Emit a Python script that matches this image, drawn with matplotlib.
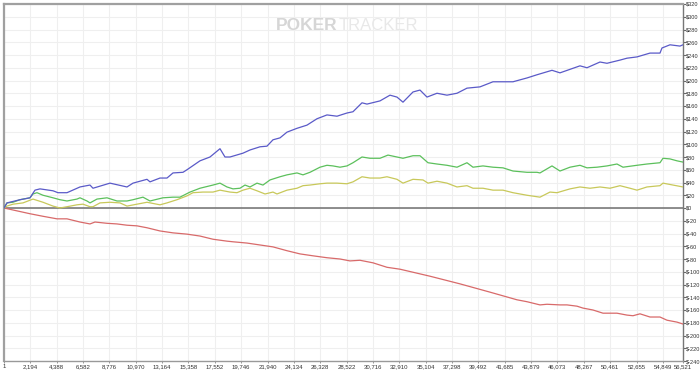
import matplotlib
matplotlib.use("Agg")
import matplotlib.pyplot as plt

# hand number / running total in dollars
blue_hands = [1, 250, 1332, 2164, 2580, 2997, 4079, 4495, 5244, 6326, 7159, 7408,
              8823, 10239, 10738, 11903, 12153, 12985, 13568, 14068, 14900, 15233,
              16315, 17147, 17980, 18396, 18812, 19894, 20477, 21309, 21892, 22392,
              22974, 23557, 24389, 25222, 26054, 26886, 27719, 28551, 29051, 29800,
              30216, 31298, 32131, 32713, 33213, 34045, 34628, 35211, 36043, 36875,
              37708, 38540, 39622, 40704, 42369, 43535, 44367, 45616, 46281, 47946,
              48529, 49611, 50194, 51276, 51859, 52691, 53773, 54605, 54772, 55438,
              56270, 56520]
blue_won = [0, 8, 13, 16, 28, 30, 27, 24, 24, 33, 36, 31,
            39, 33, 39, 45, 41, 47, 47, 55, 56, 60,
            74, 80, 93, 80, 80, 86, 91, 96, 97, 107,
            110, 119, 125, 130, 140, 146, 144, 149, 151, 165,
            163, 168, 177, 174, 166, 182, 185, 174, 180, 177,
            180, 188, 190, 198, 198, 204, 209, 216, 212, 223,
            220, 229, 227, 232, 235, 237, 243, 243, 251, 256,
            254, 256]

green_hands = [1, 250, 749, 1332, 2164, 2414, 2747, 3246, 4079, 4661, 5244, 6077,
               6326, 6909, 7159, 7741, 8574, 9406, 10239, 10738, 11570, 12153,
               13235, 14068, 14650, 15483, 16315, 17397, 17980, 18563, 19062, 19645,
               20061, 20477, 21060, 21559, 22142, 22974, 23557, 24389, 24889, 25471,
               26304, 26886, 27386, 27969, 28551, 29051, 29800, 30466, 31298, 31964,
               32713, 33213, 34045, 34628, 35294, 36043, 36875, 37708, 38540, 39040,
               39872, 40704, 41537, 42369, 43535, 44367, 44617, 45616, 46281, 47114,
               47946, 48529, 49361, 50194, 51026, 51526, 52691, 53523, 54605, 54855,
               55438, 56021, 56520]
green_won = [0, 8, 9, 13, 16, 22, 24, 20, 16, 13, 11, 14,
             16, 11, 8, 14, 16, 11, 11, 13, 17, 11,
             16, 17, 17, 25, 31, 36, 39, 33, 30, 31,
             36, 33, 39, 36, 44, 49, 52, 55, 52, 56,
             64, 67, 66, 64, 66, 71, 80, 78, 78, 83,
             80, 78, 82, 82, 71, 69, 67, 64, 71, 64,
             66, 64, 63, 58, 56, 56, 55, 66, 58, 64,
             67, 63, 64, 66, 69, 64, 67, 69, 71, 78,
             77, 74, 72]

yellow_hands = [1, 250, 749, 1582, 2414, 3246, 4079, 4661, 5244, 6077, 6576, 7159,
                7408, 7991, 8823, 9656, 10239, 11071, 11903, 12985, 13568, 14401,
                15233, 15732, 16565, 17397, 17980, 18812, 19395, 19894, 20477, 21060,
                21726, 22392, 22725, 23557, 24389, 24889, 25471, 26304, 26886, 27719,
                28551, 29051, 29800, 30466, 31298, 31881, 32713, 33213, 34045, 34878,
                35294, 36043, 36875, 37708, 38540, 39040, 39872, 40704, 41537, 42369,
                43535, 44617, 45449, 46032, 47114, 47946, 48779, 49611, 50443, 51276,
                52108, 52691, 53523, 54605, 54855, 55688, 56520]
yellow_won = [0, 3, 6, 8, 14, 9, 3, 0, 2, 5, 6, 2,
              2, 8, 9, 8, 3, 6, 9, 5, 8, 13,
              19, 24, 25, 25, 28, 25, 24, 28, 31, 27,
              22, 25, 22, 28, 31, 35, 36, 38, 39, 39,
              38, 41, 49, 47, 47, 49, 45, 39, 45, 44,
              39, 42, 39, 33, 35, 31, 31, 28, 28, 24,
              20, 17, 25, 24, 30, 33, 31, 33, 31, 35,
              31, 28, 33, 35, 39, 36, 33]

red_hands = [1, 2164, 3246, 4412, 5244, 6326, 7159, 7575, 8574, 9406, 10239, 11071,
             11903, 12985, 14068, 15233, 16315, 17397, 18563, 19062, 20227, 21309,
             22392, 23557, 24639, 25721, 26886, 27969, 28801, 29633, 30716, 31881,
             32963, 35460, 37957, 40455, 42702, 43535, 44617, 45199, 46281, 46864,
             47696, 48196, 49028, 49861, 51026, 51859, 52358, 52941, 53773, 54605,
             55188, 56021, 56520]
red_won = [0, -9, -13, -17, -17, -22, -25, -22, -24, -25, -27, -28,
           -31, -36, -39, -41, -44, -49, -52, -53, -55, -58,
           -61, -67, -72, -75, -78, -80, -83, -82, -86, -93,
           -96, -107, -119, -132, -144, -147, -152, -151, -152, -152,
           -154, -157, -160, -165, -165, -168, -169, -166, -171, -171,
           -176, -179, -182]

x_ticks = [1, 2194, 4388, 6582, 8776, 10970, 13164, 15358, 17552, 19746, 21940,
           24134, 26328, 28522, 30716, 32910, 35104, 37298, 39492, 41685, 43879,
           46073, 48267, 50461, 52655, 54849, 56521]
y_ticks = list(range(-240, 321, 20))

small_font = ["Liberation Sans", "DejaVu Sans"]

fig = plt.figure(figsize=(7, 3.7), dpi=100)
ax = fig.add_axes([4 / 700, 1 - 361 / 370, 679 / 700, 357 / 370])

ax.set_xlim(1, 56521)
ax.set_ylim(-240, 320)

ax.set_xticks(x_ticks)
ax.set_xticklabels([f"{t:,}" for t in x_ticks], fontsize=4.3, color="#333333",
                   family=small_font)
ax.set_yticks(y_ticks)
ax.set_yticklabels(["$" + str(v) for v in y_ticks], fontsize=4.1, color="#333333",
                   family=small_font)
ax.yaxis.tick_right()
ax.tick_params(axis="y", length=2, width=0.8, color="#666666", pad=0.5)
ax.tick_params(axis="x", length=1.5, width=0.6, color="#888888", pad=0.8)

ax.grid(True, color="#efefef", linewidth=0.8)
ax.set_axisbelow(True)

for side in ["left", "top"]:
    ax.spines[side].set_color("#a0a0a0")
    ax.spines[side].set_linewidth(1.6)
ax.spines["right"].set_color("#777777")
ax.spines["right"].set_linewidth(1.0)
ax.spines["bottom"].set_color("#999999")
ax.spines["bottom"].set_linewidth(1.0)

ax.axhline(0, color="#7a7a7a", linewidth=1.2, zorder=2)

ax.plot(red_hands, red_won, color="#d86a6a", linewidth=0.9, zorder=3)
ax.plot(yellow_hands, yellow_won, color="#c8c85a", linewidth=0.9, zorder=3)
ax.plot(green_hands, green_won, color="#5cc05c", linewidth=0.9, zorder=3)
ax.plot(blue_hands, blue_won, color="#5a5ac8", linewidth=0.9, zorder=3)

# watermark
fig.text(276 / 700, 1 - 26 / 370, "POKER", fontsize=12.5, fontweight="bold",
         family=["Liberation Sans", "DejaVu Sans"],
         color="#d6d6d6", va="center", ha="left")
fig.text(339 / 700, 1 - 26 / 370, "TRACKER", fontsize=12,
         family=["Liberation Sans", "DejaVu Sans"],
         color="#e8e8e8", va="center", ha="left")

fig.savefig("out.png", dpi=100)
